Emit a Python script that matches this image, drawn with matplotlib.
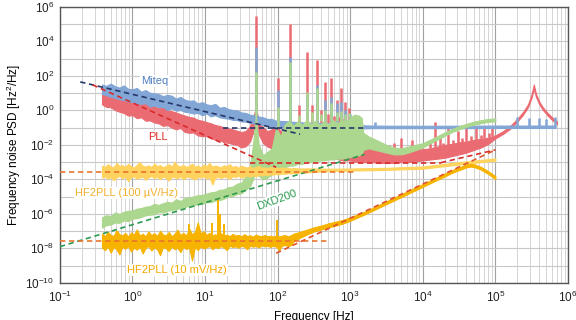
import numpy as np
import matplotlib
matplotlib.use('Agg')
import matplotlib.pyplot as plt
from matplotlib.ticker import FixedLocator, FuncFormatter, NullFormatter

plt.rcParams['font.family'] = ['Liberation Sans', 'DejaVu Sans']
plt.rcParams['mathtext.default'] = 'regular'

# All values are log10(frequency [Hz]) and log10(PSD [Hz^2/Hz]).
# Noisy traces are stored as upper / lower envelopes, mains lines as separate spikes.

# Miteq (blue)
miteq_f = [-0.42, -0.36, -0.30, -0.24, -0.18, -0.12, -0.06, 0.00, 0.06, 0.12, 0.18, 0.24,
           0.30, 0.36, 0.42, 0.48, 0.54, 0.60, 0.66, 0.72, 0.78, 0.84, 0.90, 0.96, 1.02,
           1.08, 1.14, 1.20, 1.26, 1.32, 1.38, 1.44, 1.50, 1.56, 1.62, 1.68, 1.74, 1.80,
           1.86, 1.92, 1.98, 2.10, 2.20, 2.30, 2.40, 2.50, 2.60, 2.70, 2.80, 2.90, 3.00,
           3.10, 3.20, 3.30, 3.60, 4.00, 4.50, 5.00, 5.50, 5.83]
miteq_hi = [1.50, 1.42, 1.55, 1.40, 1.32, 1.45, 1.25, 1.22, 1.30, 1.08, 1.18, 1.02,
            0.98, 0.95, 0.82, 0.90, 0.85, 0.68, 0.78, 0.62, 0.55, 0.58, 0.40, 0.48, 0.35,
            0.30, 0.38, 0.15, 0.20, 0.08, 0.02, 0.00, -0.12, -0.15, -0.25, -0.28, -0.36, -0.40,
            -0.50, -0.50, -0.60, -0.62, -0.66, -0.68, -0.72, -0.70, -0.74, -0.73, -0.76, -0.76, -0.80,
            -0.84, -0.87, -0.88, -0.89, -0.89, -0.89, -0.88, -0.88, -0.88]
miteq_lo = [0.95, 0.88, 0.78, 0.72, 0.65, 0.60, 0.52, 0.48, 0.40, 0.38, 0.42, 0.22,
            0.28, 0.18, 0.20, 0.02, 0.12, -0.02, 0.02, -0.08, -0.12, -0.18, -0.15, -0.28, -0.18,
            -0.35, -0.28, -0.40, -0.45, -0.48, -0.55, -0.56, -0.64, -0.65, -0.72, -0.76, -0.78, -0.85,
            -0.87, -0.93, -0.95, -1.00, -1.02, -1.03, -1.03, -1.04, -1.04, -1.04, -1.05, -1.04, -1.04,
            -1.04, -1.04, -1.03, -1.03, -1.03, -1.03, -1.02, -1.02, -1.02]
miteq_spike_f = [1.699, 2.000, 2.176, 2.398, 2.544, 2.653, 2.740, 2.813, 2.875, 2.929, 3.000,
                 3.340, 5.300, 5.470, 5.600, 5.700, 5.820]
miteq_spike_lo = [-0.5, -0.6, -0.7, -0.7, -0.75, -0.75, -0.75, -0.8, -0.8, -0.8, -0.8,
                  -0.9, -0.9, -0.9, -0.9, -0.9, -0.9]
miteq_spike_hi = [3.7, 1.2, 3.1, 0.9, 1.5, 0.6, 0.8, 0.4, 0.5, 0.0, -0.2,
                  -0.7, -0.4, -0.45, -0.45, -0.5, -0.4]

# PLL (red)
pll_f = [-0.42, -0.36, -0.30, -0.24, -0.18, -0.12, -0.06, 0.00, 0.06, 0.12, 0.18, 0.24,
         0.30, 0.36, 0.42, 0.48, 0.54, 0.60, 0.66, 0.72, 0.78, 0.84, 0.90, 0.96, 1.02,
         1.08, 1.14, 1.20, 1.26, 1.32, 1.38, 1.44, 1.50, 1.56, 1.62, 1.66, 1.70, 1.74,
         1.80, 1.86, 1.92, 1.98, 2.04, 2.10, 2.20, 2.30, 2.40, 2.50, 2.60, 2.70, 2.80,
         2.90, 3.00, 3.10, 3.20, 3.30, 3.40, 3.50, 3.60, 3.70, 3.80, 3.90, 4.00, 4.10,
         4.20, 4.30, 4.40, 4.50, 4.60, 4.70, 4.80, 4.90, 5.00, 5.10, 5.20, 5.30, 5.38,
         5.45, 5.50, 5.53, 5.56, 5.60, 5.65, 5.72, 5.78, 5.85]
pll_hi = [1.05, 0.92, 1.00, 0.88, 0.82, 0.75, 0.70, 0.60, 0.52, 0.48, 0.38, 0.32,
          0.25, 0.15, 0.18, 0.00, -0.05, -0.12, -0.22, -0.30, -0.38, -0.42, -0.55, -0.60, -0.68,
          -0.75, -0.85, -0.90, -0.98, -1.05, -1.10, -1.18, -1.25, -1.20, -0.90, -0.40, 0.10, -0.50,
          -1.00, -1.20, -1.10, -0.80, -1.20, -1.30, -1.20, -1.40, -1.30, -1.50, -1.40, -1.60, -1.50,
          -1.70, -1.60, -1.90, -2.10, -2.20, -2.30, -2.40, -2.45, -2.40, -2.35, -2.30, -2.25, -2.20,
          -2.10, -2.00, -1.95, -1.85, -1.80, -1.72, -1.65, -1.58, -1.45, -1.22, -0.92, -0.50, -0.10,
          0.35, 0.95, 1.50, 0.95, 0.55, 0.20, -0.15, -0.40, -0.65]
pll_lo = [0.35, 0.20, 0.18, 0.02, -0.08, -0.15, -0.30, -0.28, -0.45, -0.40, -0.60, -0.58,
          -0.70, -0.75, -0.90, -0.85, -1.00, -1.10, -1.02, -1.25, -1.30, -1.28, -1.45, -1.50, -1.48,
          -1.62, -1.70, -1.72, -1.85, -1.88, -1.95, -2.00, -2.15, -2.08, -1.80, -1.30, -0.60, -1.40,
          -1.90, -2.10, -2.20, -2.00, -2.30, -2.40, -2.50, -2.60, -2.60, -2.70, -2.70, -2.80, -2.80,
          -2.90, -2.90, -3.00, -3.00, -3.00, -3.05, -3.05, -3.05, -3.00, -3.00, -2.95, -2.90, -2.85,
          -2.80, -2.75, -2.65, -2.55, -2.45, -2.30, -2.15, -1.95, -1.62, -1.38, -1.08, -0.66, -0.26,
          0.19, 0.75, 1.25, 0.78, 0.40, 0.05, -0.30, -0.55, -0.80]
pll_spike_f = [1.699, 2.000, 2.176, 2.301, 2.398, 2.477, 2.544, 2.602, 2.653, 2.699, 2.740,
               2.778, 2.813, 2.845, 2.875, 2.903, 2.929, 2.954, 2.978, 3.000,
               3.52, 3.60, 3.70, 3.85, 3.96, 4.10, 4.17, 4.24, 4.28, 4.35, 4.42, 4.48,
               4.54, 4.60, 4.66, 4.74, 4.80, 4.85, 4.91, 4.96]
pll_spike_lo = [0.1, -0.8, -1.3, -1.4, -1.3, -1.5, -1.4, -1.4, -1.5, -1.6, -1.5,
                -1.5, -1.5, -1.6, -1.6, -1.7, -1.7, -1.7, -1.6, -1.6,
                -2.4, -2.45, -2.4, -2.35, -2.25, -2.2, -2.15, -2.1, -2.0, -2.0, -1.95, -1.9,
                -1.85, -1.8, -1.75, -1.7, -1.65, -1.6, -1.55, -1.5]
pll_spike_hi = [5.5, 1.9, 5.0, 0.3, 3.4, 0.3, 2.9, 0.0, 1.65, -0.2, 1.9,
                -0.3, 0.6, -0.4, 1.3, -0.5, 0.5, -0.6, 0.15, -0.5,
                -2.0, -1.9, -1.6, -1.7, -1.95, -1.9, -0.67, -1.4, -1.9, -1.0, -1.7, -1.2,
                -1.6, -0.9, -1.5, -1.0, -1.4, -1.05, -1.3, -1.0]

# DXD200 (green)
dxd_f = [-0.42, -0.36, -0.30, -0.24, -0.18, -0.12, -0.06, 0.00, 0.06, 0.12, 0.18, 0.24,
         0.30, 0.36, 0.42, 0.48, 0.54, 0.60, 0.66, 0.72, 0.78, 0.84, 0.90, 0.96, 1.02,
         1.08, 1.14, 1.20, 1.26, 1.32, 1.38, 1.44, 1.50, 1.56, 1.62, 1.66, 1.70, 1.74,
         1.80, 1.86, 1.92, 1.98, 2.04, 2.10, 2.16, 2.22, 2.28, 2.34, 2.40, 2.46, 2.52,
         2.58, 2.64, 2.70, 2.76, 2.82, 2.88, 2.94, 3.00, 3.06, 3.12, 3.16, 3.18, 3.25,
         3.30, 3.40, 3.50, 3.60, 3.70, 3.80, 3.90, 4.00, 4.10, 4.20, 4.30, 4.40, 4.50,
         4.60, 4.70, 4.80, 4.90, 5.00]
dxd_hi = [-6.20, -6.08, -6.12, -5.92, -6.00, -5.88, -5.82, -5.80, -5.70, -5.66, -5.58, -5.55,
          -5.42, -5.48, -5.38, -5.30, -5.35, -5.15, -5.25, -5.08, -5.05, -4.98, -4.92, -4.90, -4.82,
          -4.75, -4.72, -4.60, -4.58, -4.45, -4.42, -4.25, -4.20, -3.80, -3.20, -2.00, -0.30, -2.00,
          -2.60, -2.40, -2.20, -1.00, -1.50, -0.80, -0.60, -0.90, -0.60, -0.85, -0.55, -0.80, -0.60,
          -0.85, -0.60, -0.80, -0.55, -0.75, -0.55, -0.65, -0.40, -0.25, -0.30, -0.45, -1.30, -1.50,
          -1.60, -1.80, -2.00, -2.15, -2.20, -2.10, -2.00, -1.90, -1.70, -1.50, -1.28, -1.08, -0.92,
          -0.78, -0.66, -0.57, -0.50, -0.47]
dxd_lo = [-6.80, -6.65, -6.62, -6.50, -6.52, -6.38, -6.42, -6.28, -6.25, -6.18, -6.08, -6.05,
          -6.02, -5.90, -5.92, -5.82, -5.78, -5.72, -5.66, -5.62, -5.52, -5.52, -5.42, -5.42, -5.32,
          -5.32, -5.22, -5.20, -5.12, -4.98, -4.96, -4.85, -4.80, -4.60, -4.40, -4.00, -3.50, -3.80,
          -4.00, -3.90, -3.70, -3.50, -3.40, -3.30, -3.20, -3.20, -3.10, -3.10, -3.00, -3.00, -2.95,
          -2.90, -2.90, -2.85, -2.85, -2.80, -2.80, -2.75, -2.70, -2.65, -2.60, -2.50, -2.30, -2.20,
          -2.25, -2.35, -2.45, -2.55, -2.55, -2.45, -2.30, -2.15, -1.92, -1.70, -1.48, -1.26, -1.10,
          -0.95, -0.83, -0.74, -0.67, -0.63]
dxd_spike_f = [1.699, 2.000, 2.176, 2.301, 2.398, 2.477, 2.544, 2.602, 2.653, 2.740,
               2.813, 2.875, 2.929, 2.978]
dxd_spike_lo = [-0.3, -1.0, -0.6, -0.6, -0.6, -0.7, -0.6, -0.6, -0.6, -0.6,
                -0.6, -0.6, -0.6, -0.4]
dxd_spike_hi = [2.2, 0.2, 2.8, -0.26, 1.07, -0.1, 1.3, -0.2, 0.0, 0.43,
                -0.1, -0.05, -0.2, -0.15]

# HF2PLL (100 uV/Hz), light yellow
hf1_f = [-0.42, -0.38, -0.34, -0.30, -0.26, -0.22, -0.18, -0.14, -0.10, -0.06,
         -0.02, 0.02, 0.06, 0.10, 0.14, 0.18, 0.22, 0.26, 0.30, 0.34,
         0.38, 0.42, 0.46, 0.50, 0.54, 0.58, 0.62, 0.66, 0.70, 0.74,
         0.78, 0.82, 0.86, 0.90, 0.94, 0.98, 1.02, 1.06, 1.10, 1.14,
         1.18, 1.22, 1.26, 1.30, 1.34, 1.38, 1.42, 1.46, 1.50, 1.54,
         1.58, 1.62, 1.66, 1.70, 1.74, 1.78, 1.82, 1.86, 1.90, 1.94,
         1.98, 2.02, 2.06, 2.10, 2.14, 2.18, 2.22, 2.26, 2.30,
         2.40, 2.50, 2.60, 2.70, 2.80, 3.00, 3.50, 4.00, 4.50, 4.80, 5.00]
hf1_hi = [-3.20, -3.28, -3.12, -3.25, -3.30, -3.05, -3.22, -3.18, -3.27, -3.10,
          -3.24, -3.32, -3.15, -3.00, -3.21, -3.26, -3.19, -3.29, -3.08, -3.23,
          -3.17, -3.30, -3.22, -3.12, -3.27, -2.98, -3.20, -3.25, -3.16, -3.28,
          -3.21, -3.09, -3.26, -3.19, -3.31, -3.14, -3.23, -3.05, -3.27, -3.20,
          -3.25, -3.30, -3.18, -3.24, -3.12, -3.29, -3.22, -3.33, -3.20, -3.27,
          -3.31, -3.24, -3.35, -3.28, -3.22, -3.33, -3.30, -3.36, -3.27, -3.34,
          -3.31, -3.36, -3.30, -3.35, -3.33, -3.37, -3.34, -3.36, -3.37,
          -3.36, -3.37, -3.38, -3.38, -3.38, -3.37, -3.33, -3.25, -3.00, -2.87, -2.78]
hf1_lo = [-3.90, -3.82, -3.95, -3.86, -4.05, -3.88, -3.80, -3.93, -3.85, -4.10,
          -3.87, -3.83, -3.96, -3.89, -3.84, -4.02, -3.88, -3.81, -3.92, -3.86,
          -3.98, -3.84, -3.90, -4.08, -3.85, -3.88, -3.94, -3.82, -3.99, -3.87,
          -3.84, -3.93, -4.00, -3.86, -3.89, -3.83, -3.95, -3.88, -4.30, -3.90,
          -3.85, -3.92, -3.84, -3.88, -3.97, -3.82, -3.86, -3.79, -3.90, -3.83,
          -3.78, -3.85, -3.76, -3.82, -3.74, -3.78, -3.72, -3.76, -3.70, -3.73,
          -3.68, -3.71, -3.66, -3.68, -3.64, -3.66, -3.62, -3.63, -3.60,
          -3.60, -3.57, -3.54, -3.51, -3.50, -3.49, -3.45, -3.38, -3.14, -3.00, -2.92]

# HF2PLL (10 mV/Hz), orange
hf2_f = [-0.42, -0.38, -0.34, -0.30, -0.26, -0.22, -0.18, -0.14, -0.10, -0.06,
         -0.02, 0.02, 0.06, 0.10, 0.14, 0.18, 0.22, 0.26, 0.30, 0.34,
         0.38, 0.42, 0.46, 0.50, 0.54, 0.58, 0.62, 0.66, 0.70, 0.74,
         0.78, 0.82, 0.86, 0.90, 0.94, 0.98, 1.02, 1.06, 1.10, 1.14,
         1.18, 1.22, 1.26, 1.30, 1.34, 1.38, 1.42, 1.46, 1.50, 1.54,
         1.58, 1.62, 1.66, 1.70, 1.74, 1.78, 1.82, 1.86, 1.90, 1.94,
         1.98, 2.02, 2.06, 2.10, 2.14, 2.18,
         2.22, 2.30, 2.40, 2.50, 2.60, 2.70, 2.80, 2.90, 3.00, 3.20, 3.40, 3.60,
         3.80, 4.00, 4.20, 4.40, 4.50, 4.60, 4.66, 4.72, 4.80, 4.90, 5.00]
hf2_hi = [-7.15, -7.30, -7.05, -7.22, -7.28, -6.95, -7.18, -7.25, -7.10, -7.32,
          -7.08, -7.20, -6.90, -7.26, -7.15, -7.30, -7.02, -7.22, -7.12, -7.28,
          -6.98, -7.20, -7.25, -7.05, -7.30, -7.15, -6.92, -7.22, -7.10, -7.26,
          -6.85, -7.18, -7.05, -6.50, -7.15, -7.00, -7.22, -7.10, -7.25, -7.18,
          -7.28, -7.12, -7.25, -7.20, -7.30, -7.16, -7.26, -7.22, -7.30, -7.18,
          -7.28, -7.24, -7.32, -7.20, -7.27, -7.30, -7.22, -7.30, -7.26, -7.32,
          -7.25, -7.30, -7.27, -7.22, -7.30, -7.25,
          -7.15, -7.05, -6.92, -6.78, -6.68, -6.55, -6.45, -6.35, -6.20, -5.87, -5.47, -5.07,
          -4.67, -4.27, -3.87, -3.47, -3.30, -3.14, -3.10, -3.14, -3.27, -3.52, -3.82]
hf2_lo = [-7.95, -8.10, -7.88, -8.25, -7.92, -8.05, -8.35, -7.90, -8.02, -7.86,
          -8.18, -7.95, -8.08, -7.90, -8.30, -7.98, -7.85, -8.12, -7.94, -8.05,
          -8.40, -7.92, -8.00, -8.15, -7.88, -8.05, -7.96, -8.22, -7.90, -8.04,
          -7.95, -8.70, -7.92, -8.10, -7.88, -8.00, -7.94, -7.85, -8.05, -7.92,
          -7.98, -7.86, -7.95, -8.10, -7.84, -7.92, -7.88, -7.96, -7.85, -7.90,
          -8.05, -7.84, -7.90, -7.86, -7.95, -7.82, -7.88, -7.85, -7.92, -7.84,
          -7.90, -8.10, -7.85, -7.80, -7.86, -7.82,
          -7.60, -7.40, -7.20, -7.02, -6.90, -6.78, -6.68, -6.56, -6.40, -6.03, -5.63, -5.23,
          -4.83, -4.43, -4.03, -3.63, -3.46, -3.30, -3.26, -3.30, -3.43, -3.68, -3.98]
hf2_spike_f = [0.78, 1.10, 1.18, 1.21, 1.26, 1.99]
hf2_spike_lo = [-7.5, -7.5, -7.5, -7.5, -7.5, -7.6]
hf2_spike_hi = [-6.6, -6.5, -5.1, -6.0, -6.6, -6.35]

# fitted models (dashed), [start, end] pairs
miteq_fit_f, miteq_fit_p = [-0.72, 2.31], [1.65, -1.38]
miteq_floor_f, miteq_floor_p = [1.25, 3.23], [-1.0, -1.0]
pll_fit_f, pll_fit_p = [-0.55, 1.98], [1.48, -3.30]
pll_floor_f, pll_floor_p = [1.62, 4.25], [-3.03, -3.03]
pll_rise_f, pll_rise_p = [4.25, 5.00], [-3.03, -2.29]
dxd_fit_f, dxd_fit_p = [-1.0, 3.2], [-7.9, -2.55]
hf1_fit_f, hf1_fit_p = [-1.0, 3.1], [-3.57, -3.57]
hf2_fit_f, hf2_fit_p = [-1.0, 2.69], [-7.55, -7.55]
hf2_rise_f, hf2_rise_p = [1.98, 5.00], [-8.28, -2.29]

c_blue, c_red, c_green = '#82a6d6', '#ea6b72', '#acd78f'
c_yellow, c_orange = '#ffd35e', '#f6b300'


def band(ax, f, hi, lo, color, z):
    x = 10 ** np.array(f)
    ax.fill_between(x, 10 ** np.array(lo), 10 ** np.array(hi), color=color,
                    edgecolor=color, lw=0.8, zorder=z)


def spikes(ax, f, lo, hi, color, z, lw=1.8):
    ax.vlines(10 ** np.array(f), 10 ** np.array(lo), 10 ** np.array(hi), color=color,
              lw=lw, zorder=z)


def fit(ax, f, p, color):
    ax.plot(10 ** np.array(f), 10 ** np.array(p), color=color, lw=1.2,
            dashes=(3.2, 2.2), zorder=10)


fig = plt.figure(figsize=(5.76, 3.2), dpi=100)
ax = fig.add_axes([0.104, 0.116, 0.882, 0.8625])
ax.set_xscale('log')
ax.set_yscale('log')
ax.set_xlim(1e-1, 1e6)
ax.set_ylim(1e-10, 1e6)

# traces, bottom to top
band(ax, pll_f, pll_hi, pll_lo, c_red, 2)
spikes(ax, pll_spike_f, pll_spike_lo, pll_spike_hi, c_red, 2)
band(ax, miteq_f, miteq_hi, miteq_lo, c_blue, 3)
spikes(ax, miteq_spike_f, miteq_spike_lo, miteq_spike_hi, c_blue, 3)
band(ax, dxd_f, dxd_hi, dxd_lo, c_green, 4)
spikes(ax, dxd_spike_f, dxd_spike_lo, dxd_spike_hi, c_green, 4)
band(ax, hf1_f, hf1_hi, hf1_lo, c_yellow, 5)
band(ax, hf2_f, hf2_hi, hf2_lo, c_orange, 6)
spikes(ax, hf2_spike_f, hf2_spike_lo, hf2_spike_hi, c_orange, 6, lw=1.4)

# model lines
fit(ax, miteq_fit_f, miteq_fit_p, '#27386b')
fit(ax, miteq_floor_f, miteq_floor_p, '#27386b')
fit(ax, pll_fit_f, pll_fit_p, '#d92b2b')
fit(ax, pll_floor_f, pll_floor_p, '#d92b2b')
fit(ax, pll_rise_f, pll_rise_p, '#d92b2b')
fit(ax, dxd_fit_f, dxd_fit_p, '#2e9b50')
fit(ax, hf1_fit_f, hf1_fit_p, '#e8752e')
fit(ax, hf2_fit_f, hf2_fit_p, '#e8752e')
fit(ax, hf2_rise_f, hf2_rise_p, '#e0552c')

# ticks and grid
ax.xaxis.set_major_locator(FixedLocator([10.0 ** k for k in range(-1, 7)]))
ax.xaxis.set_minor_locator(FixedLocator([m * 10.0 ** k for k in range(-1, 6) for m in range(2, 10)]))
ax.xaxis.set_minor_formatter(NullFormatter())
ax.xaxis.set_major_formatter(FuncFormatter(lambda v, p: r'$10^{%d}$' % round(np.log10(v))))
ax.yaxis.set_major_locator(FixedLocator([10.0 ** k for k in range(-10, 7)]))
ax.yaxis.set_minor_locator(FixedLocator([]))
ax.yaxis.set_major_formatter(FuncFormatter(
    lambda v, p: r'$10^{%d}$' % round(np.log10(v)) if round(np.log10(v)) % 2 == 0 else ''))
ax.tick_params(which='both', length=0, labelsize=8.5, colors='#222222')
ax.tick_params(axis='x', pad=5)
ax.tick_params(axis='y', pad=4)
ax.grid(which='major', axis='x', color='#a0a0a0', lw=0.8, zorder=0)
ax.grid(which='minor', axis='x', color='#d4d4d4', lw=0.7, zorder=0)
ax.grid(which='major', axis='y', color='#c8c8c8', lw=0.8, zorder=0)
ax.set_axisbelow(True)
for s in ax.spines.values():
    s.set_color('#555555')
    s.set_linewidth(1.0)

ax.set_xlabel('Frequency [Hz]', fontsize=8.5, labelpad=4)
ax.set_ylabel(r'Frequency noise PSD [Hz$^2$/Hz]', fontsize=8.5, labelpad=2)

# trace labels
box = dict(facecolor='white', edgecolor='none', pad=1.0)
ax.text(10 ** 0.31, 10 ** 1.71, 'Miteq', color='#4f7fc0', fontsize=8, ha='center', va='center', bbox=box, zorder=12)
ax.text(10 ** 0.35, 10 ** -1.54, 'PLL', color='#e0302a', fontsize=8, ha='center', va='center', bbox=box, zorder=12)
ax.text(10 ** -0.08, 10 ** -4.78, 'HF2PLL (100 µV/Hz)', color='#f2b030', fontsize=8, ha='center', va='center', bbox=box, zorder=12)
ax.text(10 ** 1.99, 10 ** -5.19, 'DXD200', color='#2a9a50', fontsize=8, ha='center', va='center', rotation=20, bbox=box, zorder=12)
ax.text(10 ** 0.61, 10 ** -9.25, 'HF2PLL (10 mV/Hz)', color='#f5a800', fontsize=8, ha='center', va='center', bbox=box, zorder=12)

fig.savefig('out.png', dpi=100)
